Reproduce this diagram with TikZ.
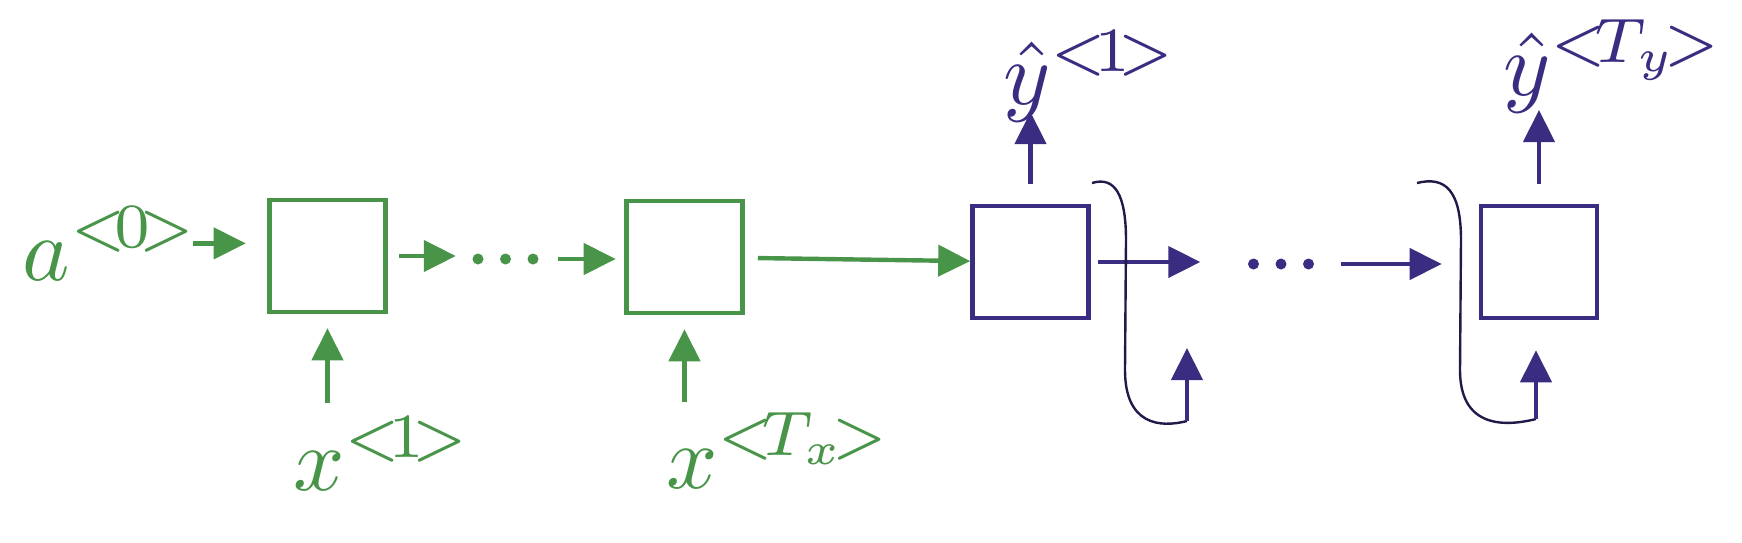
\documentclass[tikz,border=0pt]{standalone}
\usepackage{amsmath}
\usepackage{tikz}
\usetikzlibrary{positioning}
\usetikzlibrary{calc}
\usetikzlibrary{arrows.meta}
\definecolor{enccol}{RGB}{72,148,72}
\definecolor{deccol}{RGB}{58,44,128}
\definecolor{loopcol}{RGB}{32,26,72}
\newcommand{\tidx}[1]{^{<\!#1\!>}}
\tikzset{>={Triangle[length=16pt,width=15.5pt]}}

\begin{document}
\begin{tikzpicture}[x=0.5pt, y=-0.5pt, line width=2.2pt,
    cell/.style={draw, rectangle, line width=2.3pt, minimum width=58pt, minimum height=56pt, inner sep=0pt},
    lbl/.style={inner sep=0pt, outer sep=0pt, scale=4.5},
    dotsbox/.style={inner sep=0pt, minimum width=33pt, minimum height=5.5pt}]
        \path[use as bounding box] (0,0) rectangle (1742,542);

        % 1. Encoder cells and the input labels
        \node[cell, enccol] (b1) at (327.5,256) {};
        \node[cell, enccol] (b2) at (684.5,257) {};
        \node[dotsbox] (d1) at (505.5,259) {};
        \foreach \k in {-1,0,1}
            \fill[enccol] ($(d1)+(\k*27.5,0)$) circle (5.5);
        \node[lbl, enccol, anchor=base west] (a0) at (23,280) {$a\tidx{0}$};
        \node[lbl, enccol, anchor=base west] (x1) at (293,490) {$x\tidx{1}$};
        \node[lbl, enccol, anchor=base west] (xT) at (666,488) {$x\tidx{T_x}$};

        % 2. Encoder arrows
        \draw[->, enccol, shorten <=-3pt, shorten >=10.75pt] (a0.east) -- (a0.east -| b1.west);
        \draw[->, enccol, shorten <=5.75pt, shorten >=7.25pt] (b1.east) -- (b1.east -| d1.west);
        \draw[->, enccol, shorten <=8.75pt, shorten >=4.25pt] (d1.east) -- (d1.east -| b2.west);
        \draw[->, enccol, shorten <=7pt, shorten >=7pt] (x1.north -| b1.south) -- (b1.south);
        \draw[->, enccol, shorten <=5pt, shorten >=7pt] (xT.north -| b2.south) -- (b2.south);

        % 3. Decoder cells and the output labels
        \node[cell, deccol] (b3) at (1030.5,262) {};
        \node[cell, deccol] (b4) at (1539,262) {};
        \node[dotsbox] (d2) at (1281,264) {};
        \foreach \k in {-1,0,1}
            \fill[deccol] ($(d2)+(\k*27.5,0)$) circle (5.5);
        \node[lbl, deccol, anchor=base west] (y1) at (1003,104) {${\hat{y}}\tidx{1}$};
        \node[lbl, deccol, anchor=base west] (yT) at (1503,95) {${\hat{y}}\tidx{T_y}$};

        % 4. Encoder to decoder, decoder arrows
        \draw[->, enccol, shorten <=6.5pt] (b2) -- (b3);
        \draw[->, deccol, shorten <=3.75pt, shorten >=22.75pt] (b3.east) -- (b3.east -| d2.west);
        \draw[->, deccol, shorten <=12.25pt, shorten >=18.5pt] (d2.east) -- (d2.east -| b4.west);
        \draw[->, deccol, shorten <=10pt, shorten >=4pt] (b3.north) -- (b3.north |- y1.base);
        \draw[->, deccol, shorten <=10pt, shorten >=7.5pt] (b4.north) -- (b4.north |- yT.base);

        % 5. Feed the output back in
        \draw[loopcol, line width=1.2pt] (1092,183) .. controls (1115,176) and (1126,195) .. (1126,240)
            -- (1125,370) .. controls (1125,425) and (1160,428) .. (1187,421) coordinate (fb1);
        \draw[->, deccol] (fb1) -- ++(0,-73);
        \draw[loopcol, line width=1.2pt] (1417,183) .. controls (1445,176) and (1461,190) .. (1461,240)
            -- (1460,370) .. controls (1460,425) and (1500,428) .. (1536,419) coordinate (fb2);
        \draw[->, deccol, shorten >=15pt] (fb2) -- (fb2 |- b4.south);
    \end{tikzpicture}
\end{document}
